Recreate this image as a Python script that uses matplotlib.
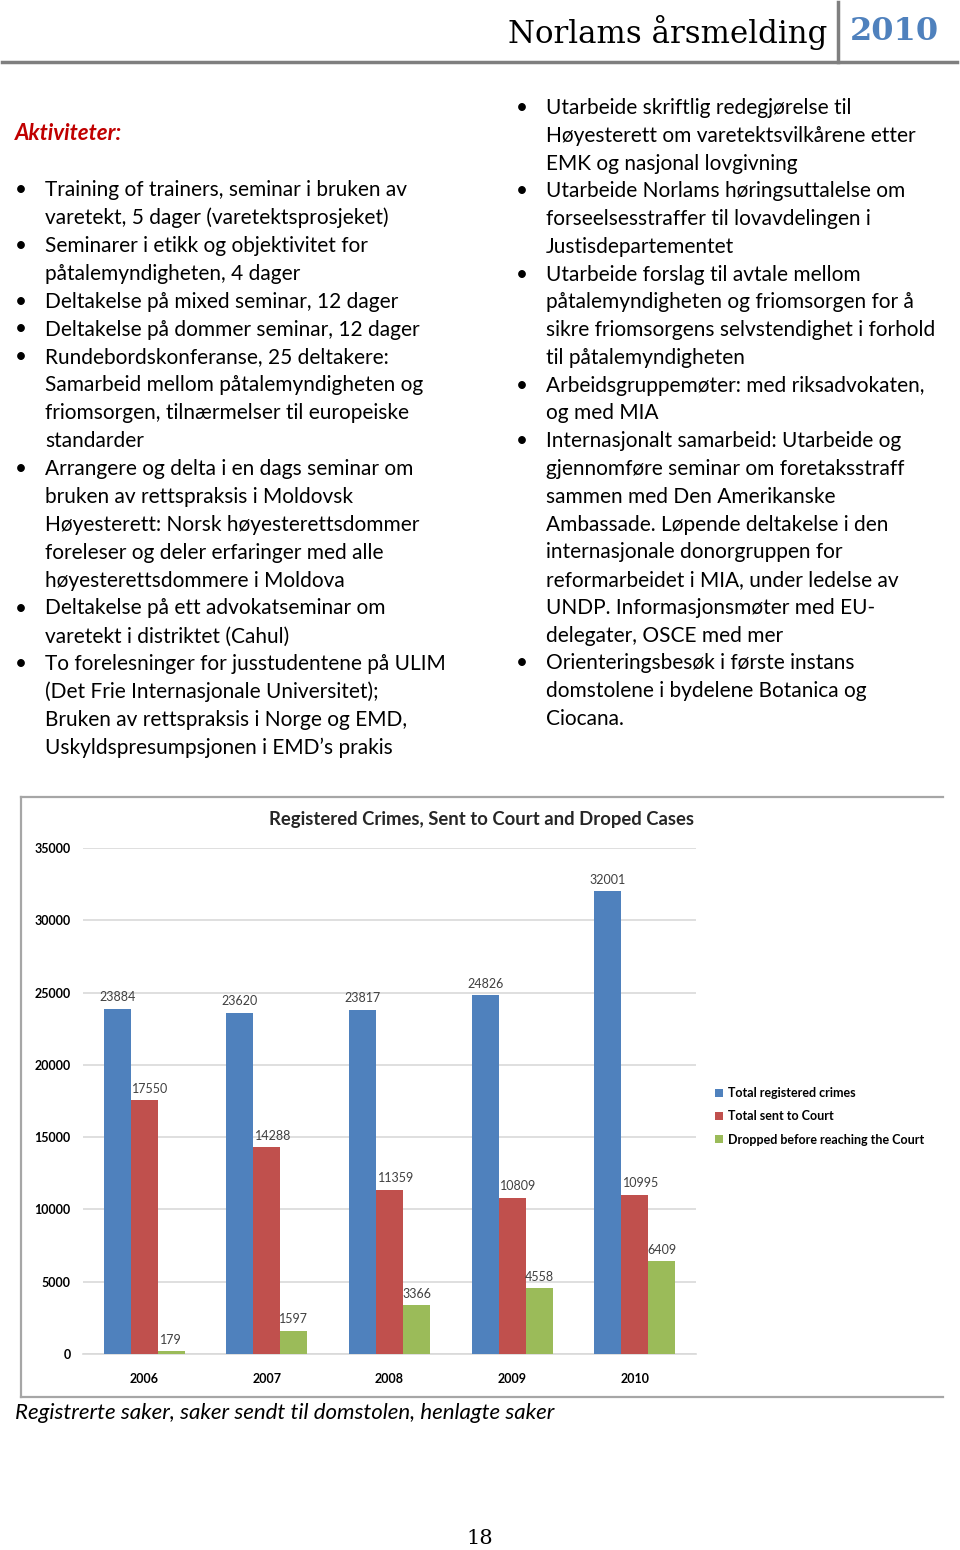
"""Norlam annual report page 18: activities list plus crime statistics chart."""
import matplotlib
matplotlib.use('Agg')
import matplotlib.pyplot as plt
from matplotlib.lines import Line2D
from matplotlib.patches import Patch
import numpy as np

W, H = 960, 1550

years = ['2006', '2007', '2008', '2009', '2010']
registered = [23884, 23620, 23817, 24826, 32001]
sent_to_court = [17550, 14288, 11359, 10809, 10995]
dropped = [179, 1597, 3366, 4558, 6409]
series_names = ['Total registered crimes', 'Total sent to Court',
                'Dropped before reaching the Court']
colors = ['#4F81BD', '#C0504D', '#9BBB59']
yticks = [0, 5000, 10000, 15000, 20000, 25000, 30000, 35000]

chart_title = 'Registered Crimes, Sent to Court and Droped Cases'
caption = 'Registrerte saker, saker sendt til domstolen, henlagte saker'

# (is_bullet, text)
left_lines = [
    (True, 'Training of trainers, seminar i bruken av'),
    (False, 'varetekt, 5 dager (varetektsprosjeket)'),
    (True, 'Seminarer i etikk og objektivitet for'),
    (False, 'påtalemyndigheten, 4 dager'),
    (True, 'Deltakelse på mixed seminar, 12 dager'),
    (True, 'Deltakelse på dommer seminar, 12 dager'),
    (True, 'Rundebordskonferanse, 25 deltakere:'),
    (False, 'Samarbeid mellom påtalemyndigheten og'),
    (False, 'friomsorgen, tilnærmelser til europeiske'),
    (False, 'standarder'),
    (True, 'Arrangere og delta i en dags seminar om'),
    (False, 'bruken av rettspraksis i Moldovsk'),
    (False, 'Høyesterett: Norsk høyesterettsdommer'),
    (False, 'foreleser og deler erfaringer med alle'),
    (False, 'høyesterettsdommere i Moldova'),
    (True, 'Deltakelse på ett advokatseminar om'),
    (False, 'varetekt i distriktet (Cahul)'),
    (True, 'To forelesninger for jusstudentene på ULIM'),
    (False, '(Det Frie Internasjonale Universitet);'),
    (False, 'Bruken av rettspraksis i Norge og EMD,'),
    (False, 'Uskyldspresumpsjonen i EMD’s prakis'),
]
right_lines = [
    (True, 'Utarbeide skriftlig redegjørelse til'),
    (False, 'Høyesterett om varetektsvilkårene etter'),
    (False, 'EMK og nasjonal lovgivning'),
    (True, 'Utarbeide Norlams høringsuttalelse om'),
    (False, 'forseelsesstraffer til lovavdelingen i'),
    (False, 'Justisdepartementet'),
    (True, 'Utarbeide forslag til avtale mellom'),
    (False, 'påtalemyndigheten og friomsorgen for å'),
    (False, 'sikre friomsorgens selvstendighet i forhold'),
    (False, 'til påtalemyndigheten'),
    (True, 'Arbeidsgruppemøter: med riksadvokaten,'),
    (False, 'og med MIA'),
    (True, 'Internasjonalt samarbeid: Utarbeide og'),
    (False, 'gjennomføre seminar om foretaksstraff'),
    (False, 'sammen med Den Amerikanske'),
    (False, 'Ambassade. Løpende deltakelse i den'),
    (False, 'internasjonale donorgruppen for'),
    (False, 'reformarbeidet i MIA, under ledelse av'),
    (False, 'UNDP. Informasjonsmøter med EU-'),
    (False, 'delegater, OSCE med mer'),
    (True, 'Orienteringsbesøk i første instans'),
    (False, 'domstolene i bydelene Botanica og'),
    (False, 'Ciocana.'),
]

SANS = 'Lato'
SERIF = 'DejaVu Serif'


def fx(x):
    return x / W


def fy(y):
    return 1 - y / H


def put(fig, x, y, s, **kw):
    kw.setdefault('va', 'center')
    kw.setdefault('ha', 'left')
    fig.text(fx(x), fy(y), s, **kw)


def hline(fig, x0, x1, y, **kw):
    fig.add_artist(Line2D([fx(x0), fx(x1)], [fy(y), fy(y)], **kw))


def vline(fig, x, y0, y1, **kw):
    fig.add_artist(Line2D([fx(x), fx(x)], [fy(y0), fy(y1)], **kw))


fig = plt.figure(figsize=(W / 100, H / 100), dpi=100)
fig.patch.set_facecolor('white')

# Header
put(fig, 508, 32, 'Norlams årsmelding', family=SERIF, fontsize=22.2,
    color='black')
put(fig, 850, 32, '2010', family=SERIF, fontsize=23, fontweight='bold',
    color='#4F81BD')
hline(fig, 2, 957, 62, color='#7F7F7F', lw=2.5)
vline(fig, 838, 2, 62, color='#7F7F7F', lw=2.5)

# Activities text
put(fig, 15, 133, 'Aktiviteter:', family=SANS, fontsize=16,
    fontweight='bold', style='italic', color='#C00000')

body = dict(family=SANS, fontsize=15, color='black')
for i, (bullet, s) in enumerate(left_lines):
    y = 190 + i * 27.9
    if bullet:
        put(fig, 15, y, '\u2022', **body)
    put(fig, 45, y, s, **body)
for i, (bullet, s) in enumerate(right_lines):
    y = 108 + i * 27.77
    if bullet:
        put(fig, 516, y, '\u2022', **body)
    put(fig, 546, y, s, **body)

# Chart frame
frame = dict(color='#A6A6A6', lw=1.6)
hline(fig, 21, 943, 797, **frame)
hline(fig, 21, 943, 1397, **frame)
vline(fig, 21, 797, 1397, **frame)

ax = fig.add_axes([fx(83), fy(1354), (696 - 83) / W, (1354 - 848) / H])
x = np.arange(len(years))
bw = 0.22
offsets = [-bw, 0, bw]
label_dx = [0, 0.05, 0]
for k, vals in enumerate([registered, sent_to_court, dropped]):
    ax.bar(x + offsets[k], vals, bw, color=colors[k], zorder=3,
           label=series_names[k])
    for xi, v in zip(x, vals):
        ax.annotate(str(v), (xi + offsets[k] + label_dx[k], v),
                    xytext=(0, 4), textcoords='offset points',
                    ha='center', va='bottom', fontsize=9,
                    family=SANS, color='#404040')

ax.set_xlim(-0.5, len(years) - 0.5)
ax.set_ylim(0, 35000)
ax.set_yticks(yticks)
ax.set_yticklabels([str(t) for t in yticks], family=SANS, fontsize=9,
                   fontweight='bold')
ax.set_xticks(x)
ax.set_xticklabels(years, family=SANS, fontsize=9, fontweight='bold')
ax.tick_params(axis='y', length=0, pad=9)
ax.tick_params(axis='x', length=0, pad=14)
ax.grid(axis='y', color='#D9D9D9', lw=1.2, zorder=0)
for side in ['left', 'right', 'top']:
    ax.spines[side].set_visible(False)
ax.spines['bottom'].set_color('#D9D9D9')
ax.spines['bottom'].set_linewidth(1.2)

put(fig, 481, 820, chart_title, family=SANS, fontsize=13.3,
    fontweight='bold', ha='center', color='#262626')

handles = [Patch(facecolor=c) for c in colors]
fig.legend(handles, series_names, loc='upper left',
           bbox_to_anchor=(fx(704), fy(1076)), frameon=False,
           handlelength=0.6, handleheight=0.6, handletextpad=0.4,
           labelspacing=0.9, prop=dict(family=SANS, size=9, weight='bold'))

put(fig, 15, 1413, caption, family=SANS, fontsize=16, style='italic')

# Page number
put(fig, 480, 1538, '18', family=SERIF, fontsize=15, ha='center')

fig.savefig('out.png', dpi=100)
